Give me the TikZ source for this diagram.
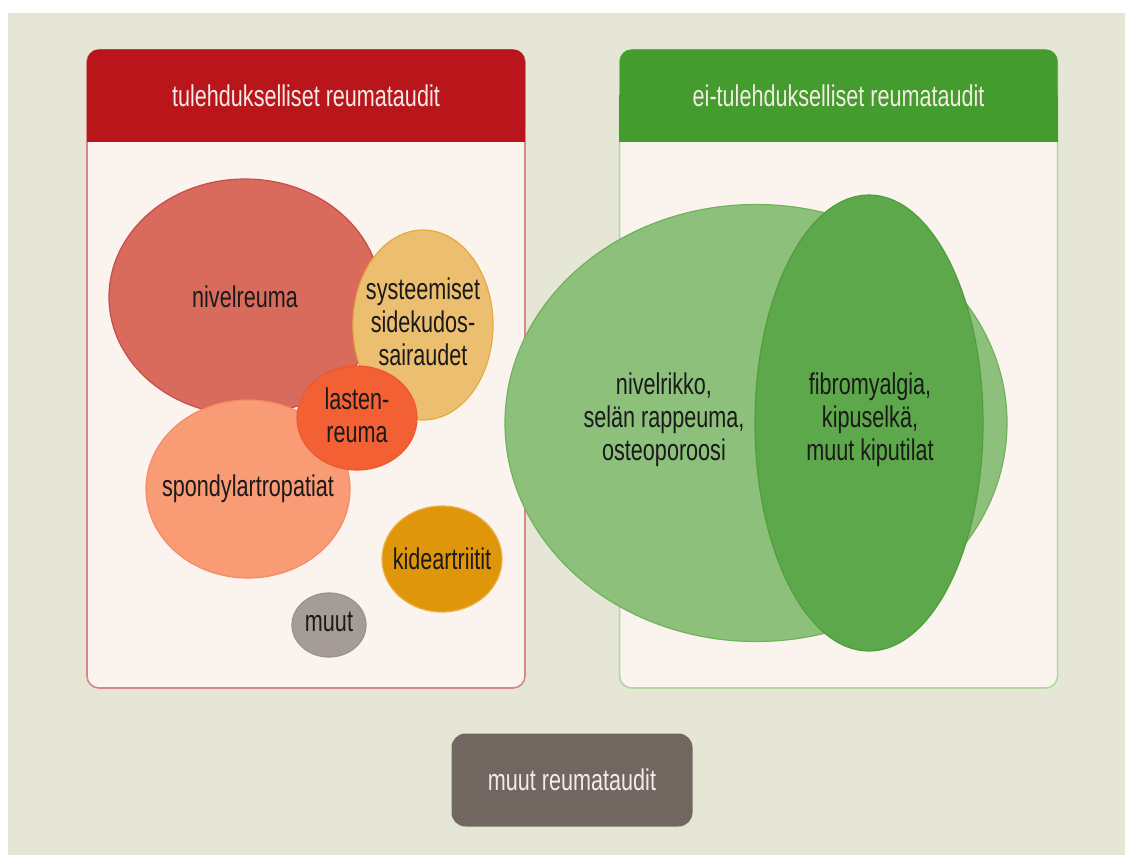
\documentclass[tikz,border=0pt]{standalone}
\usepackage{fontspec}
\setmainfont{Liberation Sans}[FakeStretch=0.72]
\usepackage{tikz}
\usetikzlibrary{positioning, shapes.geometric}

\definecolor{bgbeige}{HTML}{E5E6D5}
\definecolor{panelfill}{HTML}{FBF4EE}
\definecolor{redhead}{HTML}{B8161B}
\definecolor{redline}{HTML}{D98686}
\definecolor{greenhead}{HTML}{439C2D}
\definecolor{greenline}{HTML}{B2D7A0}
\definecolor{headtext}{HTML}{F5EAE6}
\definecolor{labeltext}{HTML}{1A1A1A}
\definecolor{otherbox}{HTML}{716760}

\begin{document}
\begin{tikzpicture}[
	x=1pt, y=-1pt,
	panel/.style={rectangle, draw, line width=1.6pt, fill=panelfill, rounded corners=12pt, minimum width=438pt, minimum height=638pt},
	header/.style={rectangle, rounded corners=12pt, minimum width=438pt, minimum height=92pt, text=headtext, font=\fontsize{30}{33}\selectfont},
	bubble/.style={ellipse, line width=1.2pt, inner sep=0pt},
	lbl/.style={align=center, text=labeltext, font=\fontsize{30}{33}\selectfont, inner sep=0pt}
	]
	
	\useasboundingbox (0,0) rectangle (1125,855);
	\fill[white] (0,0) rectangle (1125,855);
	\fill[bgbeige] (8,13) rectangle (1125,855);
	
	% the two groups
	\node[panel, draw=redline] (infl) at (306,369) {};
	\node[panel, draw=greenline, right=93pt of infl] (noninfl) {};
	
	\node[header, fill=redhead, anchor=north] (inflhead) at (infl.north) {};
	\fill[redhead] (inflhead.west) rectangle (inflhead.south east);
	\node[lbl, text=headtext] at (inflhead) {tulehdukselliset reumataudit};
	
	\node[header, fill=greenhead, anchor=north] (noninflhead) at (noninfl.north) {};
	\fill[greenhead] (noninflhead.west) rectangle (noninflhead.south east);
	\node[lbl, text=headtext] at (noninflhead) {ei-tulehdukselliset reumataudit};
	
	% inflammatory diseases
	\node[bubble, minimum width=272pt, minimum height=236pt, fill={rgb,255:red,216;green,107;blue,92}, draw={rgb,255:red,203;green,74;blue,76}] (nivel) at (245,297) {};
	\node[bubble, minimum width=140pt, minimum height=190pt, fill={rgb,255:red,235;green,190;blue,112}, draw={rgb,255:red,232;green,170;blue,60}] (syst) at (423,325) {};
	\node[bubble, minimum width=204pt, minimum height=178pt, fill={rgb,255:red,249;green,155;blue,116}, draw={rgb,255:red,245;green,138;blue,102}] (spondy) at (248,489) {};
	\node[bubble, minimum width=120pt, minimum height=104pt, fill={rgb,255:red,242;green,96;blue,52}, draw={rgb,255:red,238;green,88;blue,46}] (lasten) at (357,418) {};
	\node[bubble, minimum width=120pt, minimum height=106pt, fill={rgb,255:red,224;green,150;blue,10}, draw={rgb,255:red,236;green,176;blue,70}] (kide) at (442,559) {};
	\node[bubble, minimum width=74pt, minimum height=64pt, fill={rgb,255:red,165;green,156;blue,152}, draw={rgb,255:red,154;green,145;blue,140}] (muut) at (329,625) {};
	
	\node[lbl] at (nivel) {nivelreuma};
	\node[lbl] at ([yshift=3pt]syst.center) {systeemiset\\sidekudos-\\sairaudet};
	\node[lbl] at ([yshift=3pt]lasten.center) {lasten-\\reuma};
	\node[lbl] at (spondy) {spondylartropatiat};
	\node[lbl] at (kide) {kideartriitit};
	\node[lbl] at ([yshift=3pt]muut.center) {muut};
	
	% non-inflammatory diseases
	\node[bubble, minimum width=502pt, minimum height=437pt, fill={rgb,255:red,140;green,192;blue,123}, draw={rgb,255:red,112;green,178;blue,92}] (wear) at (756,423) {};
	\node[bubble, minimum width=228pt, minimum height=456pt, fill={rgb,255:red,93;green,168;blue,74}, draw={rgb,255:red,80;green,158;blue,62}] (pain) at (869,423) {};
	
	\node[lbl] (weartext) at (664,420) {nivelrikko,\\selän rappeuma,\\osteoporoosi};
	\node[lbl] (paintext) at (870,420) {fibromyalgia,\\kipuselkä,\\muut kiputilat};
	
	% the rest
	\node[rectangle, fill=otherbox, rounded corners=14pt, minimum width=241pt, minimum height=93pt, text=headtext, font=\fontsize{30}{33}\selectfont] (other) at (572,780) {muut reumataudit};
	
\end{tikzpicture}
\end{document}
